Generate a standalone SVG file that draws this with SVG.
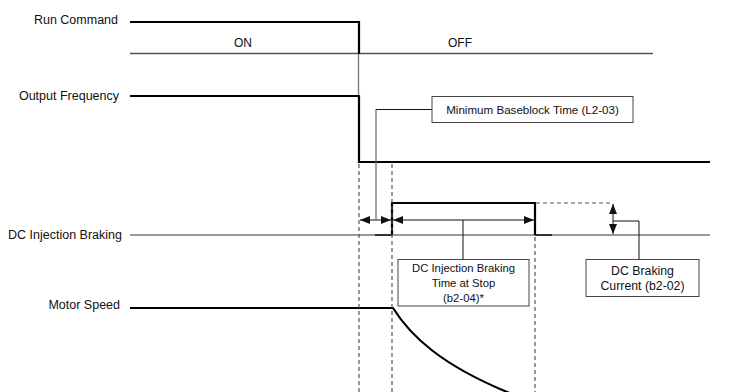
<svg xmlns="http://www.w3.org/2000/svg" width="732" height="392" viewBox="0 0 732 392">
<style>
text{font-family:"Liberation Sans",Arial,sans-serif;fill:#111}
.lbl{font-size:12.5px;text-anchor:end}
.bt{font-size:11.3px;text-anchor:middle}
.thick{fill:none;stroke:#000;stroke-width:2.2}
.thin{fill:none;stroke:#555;stroke-width:1.3}
.gray{fill:none;stroke:#777;stroke-width:1.3}
.dash{fill:none;stroke:#555;stroke-width:1.2;stroke-dasharray:4,3}
.conn{fill:none;stroke:#111;stroke-width:1}
.box{fill:#fff;stroke:#444;stroke-width:1}
.arr{fill:none;stroke:#111;stroke-width:1;marker-start:url(#ah);marker-end:url(#ah)}
</style>
<defs>
<marker id="ah" viewBox="0 0 10 8" refX="10" refY="4" markerWidth="10" markerHeight="8" markerUnits="userSpaceOnUse" orient="auto-start-reverse">
<path d="M0,0 L10,4 L0,8 Z" fill="#111"/>
</marker>
</defs>
<rect width="732" height="392" fill="#fff"/>

<g id="labels">
<text class="lbl" x="118" y="24">Run Command</text>
<text class="lbl" x="119" y="100">Output Frequency</text>
<text class="lbl" x="122" y="239">DC Injection Braking</text>
<text class="lbl" x="120" y="309">Motor Speed</text>
<text x="243" y="47" style="font-size:12px;text-anchor:middle">ON</text>
<text x="460" y="47" style="font-size:12px;text-anchor:middle">OFF</text>
</g>

<g id="signals">
<line class="thin" x1="130" y1="53.5" x2="653" y2="53.5"/>
<line class="gray" x1="358.5" y1="53" x2="358.5" y2="96"/>
<polyline class="thick" points="130,22 359,22 359,54"/>
<polyline class="thick" points="130,96 359,96 359,162 710,162"/>
<line class="gray" x1="130" y1="235" x2="710" y2="235"/>
<line x1="375" y1="235" x2="392" y2="235" stroke="#333" stroke-width="2"/>
<line x1="535" y1="235" x2="552" y2="235" stroke="#333" stroke-width="2"/>
<polyline class="thick" points="392,235 392,203 535,203 535,235"/>
<line class="dash" x1="536" y1="203" x2="613" y2="203"/>
<path class="thick" d="M130,308 L393,308 C410,335 440,365 512,394"/>
</g>

<g id="guides">
<line class="dash" x1="359" y1="164" x2="359" y2="392"/>
<line class="dash" x1="392" y1="164" x2="392" y2="392"/>
<line class="dash" x1="535" y1="237" x2="535" y2="392"/>
</g>

<g id="connectors">
<line class="arr" x1="360" y1="220" x2="391" y2="220"/>
<line class="arr" x1="393" y1="220" x2="534" y2="220"/>
<line class="arr" x1="613" y1="204" x2="613" y2="234"/>
<polyline class="gray" points="376,220 376,109.5 432,109.5" style="stroke:#666;stroke-width:1.2"/>
<line class="conn" x1="376" y1="109.5" x2="432" y2="109.5"/>
<line class="conn" x1="463" y1="220" x2="463" y2="259"/>
<polyline class="conn" points="613,221 639,221 639,259"/>
</g>

<g id="box-baseblock">
<rect class="box" x="432" y="96.5" width="201" height="26"/>
<text class="bt" x="532.5" y="113.5" style="font-size:11.6px">Minimum Baseblock Time (L2-03)</text>
</g>

<g id="box-injection-time">
<rect class="box" x="398" y="259.5" width="131" height="46.5"/>
<text class="bt" x="463.5" y="272">DC Injection Braking</text>
<text class="bt" x="463.5" y="287">Time at Stop</text>
<text class="bt" x="463.5" y="302">(b2-04)*</text>
</g>

<g id="box-current">
<rect class="box" x="586" y="259.5" width="113" height="37"/>
<text class="bt" x="642.5" y="275" style="font-size:12.3px">DC Braking</text>
<text class="bt" x="642.5" y="290" style="font-size:12.3px">Current (b2-02)</text>
</g>
</svg>
